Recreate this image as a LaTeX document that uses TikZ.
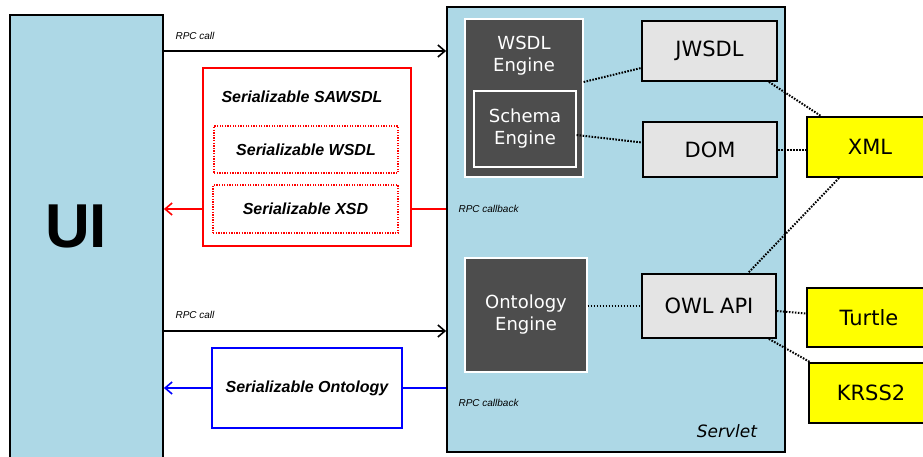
\documentclass[tikz,border=0pt]{standalone}
\usepackage{fontspec}
\setmainfont{DejaVu Sans}
\newfontfamily\arialfont{Liberation Sans}
\usetikzlibrary{arrows.meta}

\definecolor{uiblue}{HTML}{ADD8E6}
\definecolor{enginegray}{HTML}{4D4D4D}
\definecolor{libgray}{HTML}{E4E4E4}
\definecolor{fmtyellow}{HTML}{FFFF00}

\tikzset{
  box/.style={draw, line width=1.8pt, rectangle, inner sep=0pt},
  engine/.style={box, draw=white, line width=1.2pt, fill=enginegray},
  enginetext/.style={text=white, font=\fontsize{18}{22}\selectfont, align=center},
  lib/.style={box, fill=libgray, font=\fontsize{21}{25}\selectfont},
  format/.style={box, fill=fmtyellow, font=\fontsize{21}{25}\selectfont},
  serial/.style={font=\arialfont\bfseries\itshape\fontsize{16}{19}\selectfont},
  rpc/.style={font=\arialfont\itshape\fontsize{10}{12}\selectfont, anchor=west},
  link/.style={line width=2pt, dash pattern=on 1.6pt off 1.4pt},
  flow/.style={line width=1.6pt, -{Straight Barb[length=7pt,width=12pt,line width=1.6pt]}}
}

\begin{document}
\begin{tikzpicture}[x=1pt,y=-1pt]
\useasboundingbox (0,0) rectangle (923,456);

% client side
\node[box, fill=uiblue, minimum width=153, minimum height=445] (ui) at (86.5,237.5) {};
\node[font=\arialfont\bfseries\fontsize{62}{70}\selectfont] (uilabel) at (76,226) {UI};

% server side
\node[box, fill=uiblue, minimum width=338, minimum height=445] (servlet) at (616,229.5) {};
\node[font=\itshape\fontsize{17}{20}\selectfont] (servletlabel) at (727,431) {Servlet};

\node[engine, minimum width=118, minimum height=158] (wsdleng) at (524,98) {};
\node[enginetext] (wsdllabel) at (524,56) {WSDL\\Engine};
\node[engine, minimum width=102, minimum height=76, enginetext] (schemaeng) at (525,129) {Schema\\Engine};
\node[engine, minimum width=122, minimum height=114, enginetext] (ontoeng) at (526,315) {Ontology\\Engine};

\node[lib, minimum width=135, minimum height=60] (jwsdl) at (709.5,51) {JWSDL};
\node[lib, minimum width=134, minimum height=55] (dom) at (710,149.5) {DOM};
\node[lib, minimum width=134, minimum height=64] (owlapi) at (709,306) {OWL API};

\node[format, minimum width=126, minimum height=60] (xml) at (870,147) {XML};
\node[format, minimum width=124, minimum height=59] (turtle) at (869,317.5) {Turtle};
\node[format, minimum width=124, minimum height=60] (krss) at (871,393) {KRSS2};

% dotted links
\draw[link] ([yshift=16pt]wsdleng.east) -- ([yshift=-17pt]jwsdl.west);
\draw[link] ([yshift=-6pt]schemaeng.east) -- ([yshift=7pt]dom.west);
\draw[link] ([xshift=-9pt]jwsdl.south east) -- ([xshift=15pt]xml.north west);
\draw[link] (dom.east) -- (xml.west |- dom.east);
\draw[link] ([xshift=33pt]xml.south west) -- ([xshift=39pt]owlapi.north);
\draw[link] (ontoeng.east |- owlapi) -- (owlapi.west);
\draw[link] ([yshift=-5pt]owlapi.east) -- ([yshift=4pt]turtle.west);
\draw[link] ([xshift=-8pt]owlapi.south east) -- ([xshift=2pt]krss.north west);

% serializable objects
\node[box, draw=red, minimum width=208, minimum height=178] (sawsdl) at (307,157) {};
\node[serial] (sawsdllabel) at (302,97) {Serializable SAWSDL};
\node[box, draw=red, line width=1.3pt, dash pattern=on 1.3pt off 1.3pt, minimum width=184, minimum height=47, serial] (swsdl) at (306,149.5) {Serializable WSDL};
\node[box, draw=red, line width=1.3pt, dash pattern=on 1.3pt off 1.3pt, minimum width=185, minimum height=48, serial] (sxsd) at (305.5,209) {Serializable XSD};
\node[box, draw=blue, minimum width=190, minimum height=80, serial] (sonto) at (307,388) {Serializable Ontology};

% rpc arrows
\coordinate (callone) at (0,51);
\coordinate (calltwo) at (0,331);
\draw[flow] (ui.east |- callone) -- (servlet.west |- callone);
\node[rpc] (callonelabel) at (172,36) {RPC call};
\draw[line width=1.6pt, red] (servlet.west |- sxsd) -- (sawsdl.east |- sxsd);
\draw[flow, red] (sawsdl.west |- sxsd) -- (ui.east |- sxsd);
\node[rpc] (backonelabel) at (455,209) {RPC callback};

\draw[flow] (ui.east |- calltwo) -- (servlet.west |- calltwo);
\node[rpc] (calltwolabel) at (172,315) {RPC call};
\draw[line width=1.6pt, blue] (servlet.west |- sonto) -- (sonto.east);
\draw[flow, blue] (sonto.west) -- (ui.east |- sonto);
\node[rpc] (backtwolabel) at (455,403) {RPC callback};
\end{tikzpicture}
\end{document}
